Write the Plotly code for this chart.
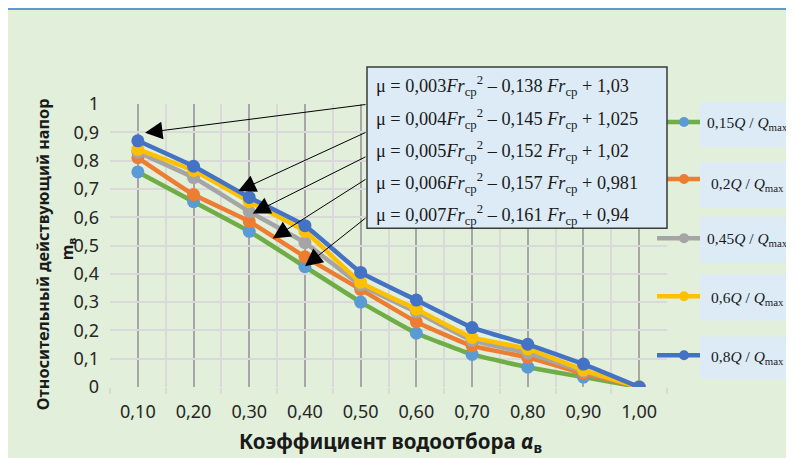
import plotly.graph_objects as go

# ---------------- data ----------------
x_vals = [0.1, 0.2, 0.3, 0.4, 0.5, 0.6, 0.7, 0.8, 0.9, 1.0]
x_labels = ["0,10", "0,20", "0,30", "0,40", "0,50", "0,60", "0,70", "0,80", "0,90", "1,00"]

s015 = [0.76, 0.655, 0.55, 0.425, 0.30, 0.19, 0.115, 0.07, 0.035, 0.0]
s02 = [0.81, 0.68, 0.585, 0.46, 0.345, 0.23, 0.145, 0.105, 0.047, 0.0]
s045 = [0.83, 0.74, 0.62, 0.51, 0.36, 0.265, 0.165, 0.12, 0.055, 0.0]
s06 = [0.84, 0.765, 0.655, 0.55, 0.37, 0.275, 0.175, 0.135, 0.06, 0.0]
s08 = [0.87, 0.78, 0.67, 0.57, 0.405, 0.307, 0.21, 0.151, 0.081, 0.0]

series_names = ["0,15<i>Q</i> / <i>Q</i><sub>max</sub>",
                "0,2<i>Q</i> / <i>Q</i><sub>max</sub>",
                "0,45<i>Q</i> / <i>Q</i><sub>max</sub>",
                "0,6<i>Q</i> / <i>Q</i><sub>max</sub>",
                "0,8<i>Q</i> / <i>Q</i><sub>max</sub>"]
series_values = [s015, s02, s045, s06, s08]
line_colors = ["#70AD47", "#ED7D31", "#A5A5A5", "#FFC000", "#4472C4"]
marker_colors = ["#5B9BD5", "#ED7D31", "#A5A5A5", "#FFC000", "#4472C4"]

equations = [
    "μ = 0,003<i>Fr</i><sub>ср</sub><sup>2</sup> – 0,138 <i>Fr</i><sub>ср</sub> + 1,03",
    "μ = 0,004<i>Fr</i><sub>ср</sub><sup>2</sup> – 0,145 <i>Fr</i><sub>ср</sub> + 1,025",
    "μ = 0,005<i>Fr</i><sub>ср</sub><sup>2</sup> – 0,152 <i>Fr</i><sub>ср</sub> + 1,02",
    "μ = 0,006<i>Fr</i><sub>ср</sub><sup>2</sup> – 0,157 <i>Fr</i><sub>ср</sub> + 0,981",
    "μ = 0,007<i>Fr</i><sub>ср</sub><sup>2</sup> – 0,161 <i>Fr</i><sub>ср</sub> + 0,94",
]

# ---------------- layout geometry (screen pixels; page has an 8px body margin) ----------------
OFF = 8
W, H = 794 - OFF, 458 - OFF
PL, PR, PT, PB = 110, 667, 104, 386.7   # plot area on screen
ML, MR, MT, MB = PL - OFF, W - (PR - OFF), PT - OFF, H - (PB - OFF)
PW = W - ML - MR
PH = H - MT - MB


def px(x):
    return (x - OFF - ML) / PW


def py(y):
    return (H - MB - (y - OFF)) / PH


fig = go.Figure()

for name, vals, lc, mc in zip(series_names, series_values, line_colors, marker_colors):
    fig.add_trace(go.Scatter(
        x=x_vals, y=vals, mode="lines+markers", name=name,
        line=dict(color=lc, width=4.5, shape="spline", smoothing=0.35),
        marker=dict(color=mc, size=13),
        showlegend=False, hoverinfo="skip",
    ))

shapes = []
annotations = []

# chart background box
shapes.append(dict(type="rect", xref="paper", yref="paper", layer="below",
                   x0=px(4), x1=px(806), y0=py(9), y1=py(470),
                   fillcolor="#E2EFDA", line=dict(color="#5B9BD5", width=2)))

# legend (manual)
leg_line_y = [122, 179, 238, 296, 355]
leg_text_y = [123, 184, 239, 298, 357]
leg_box = [(102, 147), (162, 208), (217, 263), (274, 320), (336, 379)]
for name, lc, mc, ly, ty, (b0, b1) in zip(series_names, line_colors, marker_colors,
                                            leg_line_y, leg_text_y, leg_box):
    shapes.append(dict(type="rect", xref="paper", yref="paper", layer="above",
                       x0=px(700), x1=px(800), y0=py(b1), y1=py(b0),
                       fillcolor="#DDEBF7", line=dict(width=0)))
    shapes.append(dict(type="line", xref="paper", yref="paper", layer="above",
                       x0=px(657), x1=px(700), y0=py(ly), y1=py(ly),
                       line=dict(color=lc, width=4.5)))
    shapes.append(dict(type="circle", xref="paper", yref="paper", layer="above",
                       x0=px(684 - 5), x1=px(684 + 5), y0=py(ly + 5), y1=py(ly - 5),
                       fillcolor=mc, line=dict(width=0)))
    annotations.append(dict(xref="paper", yref="paper", x=px(747), y=py(ty),
                            text=name, showarrow=False, xanchor="center", yanchor="middle",
                            font=dict(family="Liberation Serif", size=15.5, color="#1a1a1a")))

# equation box
shapes.append(dict(type="rect", xref="paper", yref="paper", layer="above",
                   x0=px(367), x1=px(667), y0=py(228), y1=py(67),
                   fillcolor="#DDEBF7", line=dict(color="#3a3a3a", width=1.5)))
eq_y = [86, 119, 151, 183, 215]
for eq, ey in zip(equations, eq_y):
    annotations.append(dict(xref="paper", yref="paper", x=px(374), y=py(ey),
                            text=eq, showarrow=False, xanchor="left", yanchor="middle",
                            font=dict(family="Liberation Serif", size=18.3, color="#1a1a1a")))

# arrows
arrows = [((145, 132.7), (367, 104.3)),
          ((238.3, 191), (367, 131.7)),
          ((252.7, 213.3), (367, 156)),
          ((272.7, 238.3), (367, 178.3)),
          ((305, 266), (367, 216.7))]
for (tx, ty), (sx, sy) in arrows:
    annotations.append(dict(xref="paper", yref="paper", x=px(tx), y=py(ty),
                            ax=sx - tx, ay=sy - ty, text="", showarrow=True,
                            arrowhead=2, arrowsize=3.5, arrowwidth=1,
                            arrowcolor="black", standoff=0))

# axis titles
annotations.append(dict(xref="paper", yref="paper", x=px(43), y=py(254),
                        text="<b>Относительный действующий напор</b>", textangle=-90,
                        showarrow=False, xanchor="center", yanchor="middle",
                        font=dict(family="Noto Sans", size=16.3, color="#1a1a1a")))
annotations.append(dict(xref="paper", yref="paper", x=px(67), y=py(249),
                        text="<b>m<sub>в</sub></b>", textangle=-90,
                        showarrow=False, xanchor="center", yanchor="middle",
                        font=dict(family="Noto Sans", size=16, color="#1a1a1a")))
annotations.append(dict(xref="paper", yref="paper", x=px(390), y=py(442),
                        text="<b>Коэффициент водоотбора <i>α</i><sub>в</sub></b>",
                        showarrow=False, xanchor="center", yanchor="middle",
                        font=dict(family="Noto Sans", size=20.5, color="#1a1a1a")))

fig.update_layout(
    width=W, height=H,
    margin=dict(l=ML, r=MR, t=MT, b=MB, pad=0),
    paper_bgcolor="white",
    plot_bgcolor="#DDEBF7",
    separators=", ",
    showlegend=False,
    shapes=shapes,
    annotations=annotations,
    font=dict(family="Noto Sans", size=18, color="#262626"),
)

fig.update_xaxes(
    range=[0.05, 1.05], tickmode="array", tickvals=x_vals, ticktext=x_labels,
    showgrid=True, gridcolor="#A6A6A6", gridwidth=2,
    ticks="", ticklabelstandoff=12, zeroline=False, showline=False,
    tickfont=dict(family="Noto Sans", size=18, color="#262626"),
    minor=dict(tickmode="array", tickvals=[0.05 + 0.1 * i for i in range(11)],
               showgrid=True, gridcolor="#D9D9D9", gridwidth=2,
               ticks="outside", ticklen=6, tickcolor="#D9D9D9", tickwidth=2),
)
fig.update_yaxes(
    range=[0, 1], dtick=0.1, showgrid=True, gridcolor="#D9D9D9", gridwidth=2,
    zeroline=False, showline=False, ticks="", ticklabelstandoff=10,
    tickfont=dict(family="Noto Sans", size=18, color="#262626"),
)

fig.write_html("out.html")
